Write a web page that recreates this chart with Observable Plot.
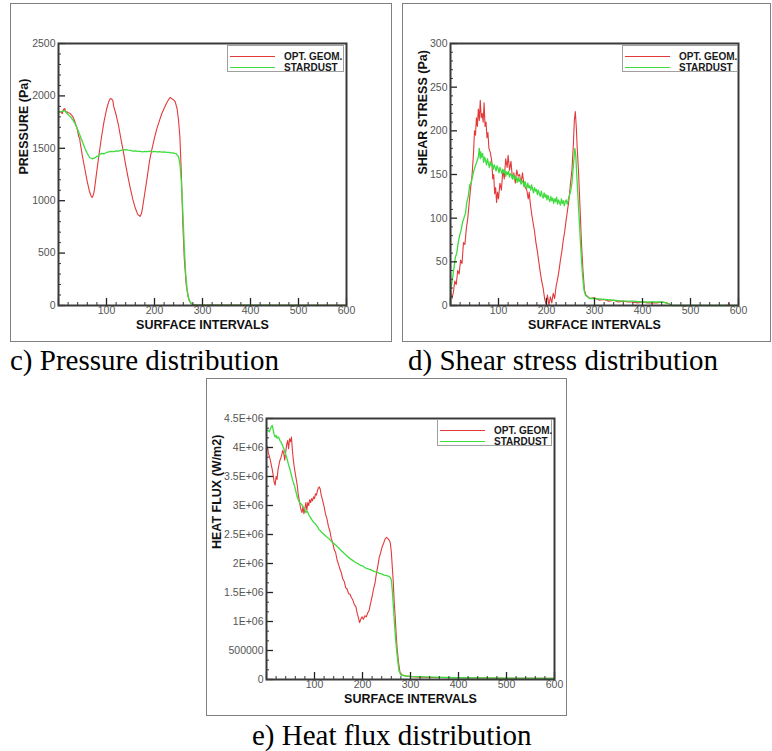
<!DOCTYPE html>
<html><head><meta charset="utf-8">
<script src="https://cdn.jsdelivr.net/npm/d3@7"></script>
<script src="https://cdn.jsdelivr.net/npm/@observablehq/plot@0.6"></script>
<style>
body{margin:0;background:#fff;width:772px;height:751px;position:relative;overflow:hidden;font-family:"Liberation Sans",Arial,sans-serif}
.box{position:absolute;border:1px solid #808080;box-sizing:border-box}
.cap{position:absolute;font-family:"Liberation Serif","Times New Roman",serif;font-size:29px;line-height:29px;color:#000;white-space:nowrap}
.leg{position:absolute;border:1px solid #a0a0a0;background:#fff;box-sizing:border-box;font:bold 10px "Liberation Sans",Arial,sans-serif;color:#1a1a1a}
.leg .ln{position:absolute;left:2px;width:45px;height:0;border-top:1px solid}
.leg .tx{position:absolute;left:56px;line-height:11px;white-space:nowrap}
svg.p{position:absolute}
</style></head><body>
<script>
// ---------- categories / labels ----------
const seriesNames = ["OPT. GEOM.", "STARDUST"];
const xTitle = "SURFACE INTERVALS";
const yTitles = ["PRESSURE (Pa)", "SHEAR STRESS (Pa)", "HEAT FLUX (W/m2)"];
const captions = ["c) Pressure distribution", "d) Shear stress distribution", "e) Heat flux distribution"];
const xMajor = [0, 100, 200, 300, 400, 500, 600];
const xLabels = [100, 200, 300, 400, 500, 600];
const xMinor = [20,40,60,80,120,140,160,180,220,240,260,280,320,340,360,380,420,440,460,480,520,540,560,580];
const pressTicks = [0, 500, 1000, 1500, 2000, 2500];
const pressMinor = [100,200,300,400,600,700,800,900,1100,1200,1300,1400,1600,1700,1800,1900,2100,2200,2300,2400];
const shearTicks = [0, 50, 100, 150, 200, 250, 300];
const shearMinor = [10,20,30,40,60,70,80,90,110,120,130,140,160,170,180,190,210,220,230,240,260,270,280,290];
const heatTicks = [0, 500000, 1000000, 1500000, 2000000, 2500000, 3000000, 3500000, 4000000, 4500000];
const heatTickLabels = ["0", "500000", "1E+06", "1.5E+06", "2E+06", "2.5E+06", "3E+06", "3.5E+06", "4E+06", "4.5E+06"];
const heatMinor = [166667,333333,666667,833333,1166667,1333333,1666667,1833333,2166667,2333333,2666667,2833333,3166667,3333333,3666667,3833333,4166667,4333333];

// ---------- series values [surface interval, value] ----------
const pressureOpt = [[0,1840],[3,1852],[5,1846],[8,1832],[10,1868],[13,1880],[15,1852],[18,1846],[20,1840],[23,1836],[25,1830],[28,1812],[30,1800],[33,1768],[35,1740],[38,1700],[40,1664],[42,1612],[44,1596],[45,1560],[50,1420],[55,1300],[60,1180],[65,1080],[68,1045],[70,1030],[73,1060],[75,1110],[80,1290],[85,1460],[90,1620],[95,1760],[100,1870],[105,1950],[108,1975],[110,1970],[113,1960],[115,1900],[120,1820],[125,1720],[130,1590],[135,1470],[140,1340],[145,1220],[150,1110],[155,1010],[160,930],[165,870],[170,850],[173,880],[175,930],[180,1080],[185,1230],[190,1390],[195,1500],[200,1600],[205,1690],[210,1760],[215,1830],[220,1880],[225,1930],[230,1970],[233,1985],[236,1972],[240,1962],[243,1945],[247,1880],[250,1770],[253,1600],[256,1250],[259,780],[262,450],[266,200],[270,80],[275,25],[280,8],[290,5],[300,4],[400,3],[500,2],[600,2]];
const pressureStar = [[0,1840],[5,1850],[10,1855],[13,1862],[15,1845],[20,1822],[25,1800],[30,1770],[35,1730],[40,1680],[45,1620],[50,1560],[55,1500],[60,1450],[65,1412],[70,1400],[75,1406],[80,1425],[83,1418],[85,1440],[90,1452],[95,1448],[100,1460],[105,1466],[110,1470],[115,1468],[120,1476],[125,1472],[130,1480],[135,1484],[140,1487],[145,1482],[150,1480],[155,1474],[160,1476],[165,1470],[170,1471],[175,1466],[180,1470],[185,1468],[190,1472],[195,1466],[200,1470],[205,1465],[210,1468],[215,1463],[220,1466],[225,1461],[230,1462],[235,1456],[240,1455],[245,1448],[250,1420],[253,1350],[256,1180],[259,900],[262,560],[265,300],[268,150],[272,50],[278,12],[285,5],[300,4],[400,3],[600,2]];
const shearOpt = [[0,18],[3,8],[6,15],[9,28],[12,24],[15,40],[18,36],[21,52],[24,48],[27,72],[30,70],[33,88],[36,100],[39,118],[42,135],[45,150],[48,175],[50,200],[52,195],[54,215],[56,205],[58,225],[60,212],[62,235],[64,215],[66,220],[68,210],[70,232],[72,205],[74,210],[76,192],[78,198],[80,180],[83,175],[86,165],[88,145],[90,150],[92,128],[94,135],[96,118],[98,130],[100,122],[103,140],[106,132],[109,155],[112,145],[115,168],[118,158],[120,172],[123,155],[126,165],[129,145],[132,152],[135,140],[138,155],[141,148],[144,150],[147,140],[150,152],[153,138],[156,135],[159,132],[162,122],[164,130],[166,118],[169,105],[172,95],[175,85],[178,72],[181,62],[184,50],[187,38],[190,28],[193,20],[196,8],[199,2],[202,12],[205,0],[208,10],[211,3],[214,14],[217,8],[220,22],[223,30],[226,40],[229,52],[232,62],[235,75],[238,85],[241,98],[244,110],[247,122],[250,140],[253,155],[256,185],[258,212],[260,222],[262,205],[264,180],[267,150],[270,110],[273,70],[276,40],[279,18],[282,12],[286,10],[290,8],[300,9],[310,6],[320,7],[330,5],[340,6],[350,4],[360,5],[370,4],[380,4],[390,3],[400,4],[410,3],[420,3],[430,3],[440,4],[450,3],[455,2],[460,0],[578,0],[580,3],[582,0],[600,0]];
const shearStar = [[0,2],[1,20],[4,30],[7,42],[10,55],[13,60],[16,72],[19,80],[22,86],[25,95],[28,100],[31,105],[34,118],[37,125],[40,138],[43,140],[46,148],[49,155],[52,160],[55,165],[58,170],[60,180],[62,168],[63,176],[65,170],[67,174],[69,164],[71,170],[73,166],[75,161],[77,168],[79,163],[81,158],[83,165],[85,160],[87,162],[89,156],[91,161],[93,158],[95,154],[97,160],[99,157],[101,152],[103,158],[105,155],[107,151],[109,156],[111,152],[113,155],[115,148],[117,153],[119,150],[121,154],[123,147],[125,151],[127,149],[129,145],[131,150],[133,144],[135,148],[137,146],[139,141],[141,147],[143,142],[145,145],[147,139],[149,143],[151,141],[153,136],[155,142],[157,138],[159,134],[161,140],[163,135],[165,137],[167,132],[169,138],[171,133],[173,129],[175,135],[177,131],[179,133],[181,127],[183,132],[185,128],[187,125],[189,131],[191,126],[193,123],[195,129],[197,124],[199,127],[201,121],[203,126],[205,122],[207,119],[209,125],[211,120],[213,123],[215,117],[217,122],[219,119],[221,124],[223,116],[225,121],[227,118],[229,115],[231,122],[233,117],[235,120],[237,114],[239,119],[241,121],[243,116],[245,120],[247,125],[250,130],[253,140],[256,160],[259,180],[261,172],[263,150],[266,120],[269,90],[272,60],[275,35],[278,18],[281,12],[285,10],[290,8],[300,8],[320,7],[340,6],[360,5],[380,5],[400,4],[420,4],[440,4],[450,3],[455,2],[460,0],[600,0]];
const heatOpt = [[0,3.95e6],[2,4.02e6],[4,3.90e6],[6,3.85e6],[8,3.78e6],[10,3.70e6],[12,3.62e6],[14,3.52e6],[16,3.40e6],[18,3.35e6],[20,3.50e6],[22,3.45e6],[24,3.62e6],[26,3.70e6],[28,3.78e6],[30,3.82e6],[32,3.88e6],[34,3.95e6],[36,3.90e6],[38,3.78e6],[40,3.92e6],[42,4.05e6],[44,4.12e6],[46,3.98e6],[48,4.15e6],[50,4.10e6],[52,4.18e6],[54,3.95e6],[56,3.78e6],[58,3.65e6],[60,3.55e6],[62,3.45e6],[64,3.35e6],[66,3.20e6],[68,3.10e6],[70,3.00e6],[72,2.92e6],[74,2.88e6],[76,2.98e6],[78,2.86e6],[80,2.95e6],[82,3.05e6],[84,2.92e6],[86,3.05e6],[88,3.00e6],[90,3.10e6],[92,3.05e6],[94,3.12e6],[96,3.08e6],[98,3.15e6],[100,3.12e6],[102,3.20e6],[104,3.18e6],[106,3.25e6],[108,3.30e6],[110,3.32e6],[112,3.28e6],[114,3.18e6],[116,3.12e6],[118,3.05e6],[120,2.98e6],[123,2.85e6],[126,2.77e6],[129,2.64e6],[132,2.56e6],[135,2.43e6],[138,2.36e6],[141,2.24e6],[144,2.19e6],[147,2.06e6],[150,1.99e6],[153,1.90e6],[156,1.84e6],[159,1.73e6],[162,1.69e6],[165,1.58e6],[168,1.56e6],[171,1.48e6],[174,1.47e6],[177,1.41e6],[180,1.37e6],[183,1.29e6],[186,1.26e6],[189,1.14e6],[192,1.05e6],[194,0.98e6],[196,1.03e6],[199,1.08e6],[202,1.04e6],[205,1.10e6],[208,1.08e6],[211,1.15e6],[214,1.20e6],[217,1.32e6],[220,1.43e6],[223,1.56e6],[226,1.66e6],[229,1.83e6],[232,1.96e6],[235,2.11e6],[238,2.19e6],[241,2.29e6],[244,2.35e6],[247,2.42e6],[250,2.45e6],[253,2.43e6],[256,2.40e6],[258,2.35e6],[260,2.20e6],[262,1.95e6],[264,1.70e6],[266,1.35e6],[268,1.10e6],[270,0.80e6],[272,0.55e6],[275,0.30e6],[278,0.13e6],[282,0.08e6],[290,0.06e6],[300,0.05e6],[320,0.04e6],[350,0.035e6],[400,0.03e6],[450,0.025e6],[500,0.02e6],[600,0.02e6]];
const heatStar = [[0,4.28e6],[3,4.30e6],[6,4.27e6],[8,4.32e6],[10,4.36e6],[12,4.38e6],[14,4.30e6],[16,4.22e6],[18,4.18e6],[20,4.21e6],[22,4.16e6],[25,4.18e6],[28,4.12e6],[31,4.08e6],[34,4.02e6],[37,3.96e6],[40,3.88e6],[43,3.80e6],[46,3.70e6],[49,3.62e6],[52,3.52e6],[55,3.42e6],[58,3.35e6],[61,3.25e6],[64,3.15e6],[67,3.08e6],[70,3.04e6],[73,3.02e6],[76,2.98e6],[79,2.95e6],[82,2.88e6],[85,2.90e6],[88,2.84e6],[91,2.80e6],[94,2.76e6],[97,2.72e6],[100,2.70e6],[105,2.65e6],[110,2.58e6],[115,2.54e6],[120,2.50e6],[125,2.46e6],[130,2.43e6],[135,2.38e6],[140,2.35e6],[145,2.31e6],[150,2.27e6],[155,2.23e6],[160,2.19e6],[165,2.15e6],[170,2.11e6],[175,2.08e6],[180,2.05e6],[185,2.02e6],[190,2.00e6],[195,1.97e6],[200,1.96e6],[205,1.93e6],[210,1.91e6],[215,1.90e6],[220,1.88e6],[225,1.86e6],[230,1.85e6],[235,1.83e6],[240,1.82e6],[245,1.80e6],[250,1.79e6],[255,1.78e6],[258,1.76e6],[260,1.72e6],[262,1.55e6],[264,1.30e6],[266,1.05e6],[268,0.80e6],[270,0.60e6],[273,0.35e6],[276,0.15e6],[280,0.08e6],[290,0.06e6],[300,0.055e6],[350,0.04e6],[400,0.03e6],[500,0.025e6],[600,0.02e6]];

const RED = "#e23a3a", GREEN = "#3fdc3f";

function addDiv(cls, css, html) {
  const d = document.createElement("div");
  d.className = cls; Object.assign(d.style, css); if (html != null) d.textContent = html;
  document.body.appendChild(d); return d;
}

function panel(cfg) {
  const {box, m, yDomain, yTicks, yMinor, yFormat, yTitle, opt, star, titleDx, legend} = cfg;
  addDiv("box", {left: box[0] + "px", top: box[1] + "px", width: box[2] + "px", height: box[3] + "px"});
  const fw = box[2] - m[0] - m[1], fh = box[3] - m[2] - m[3];
  const svg = Plot.plot({
    width: box[2], height: box[3],
    marginLeft: m[0], marginRight: m[1], marginTop: m[2], marginBottom: m[3],
    style: {fontFamily: "'Liberation Sans', Arial, sans-serif", background: "transparent", overflow: "visible"},
    x: {domain: [0, 600]},
    y: {domain: yDomain},
    marks: [
      Plot.line(opt, {x: d => d[0], y: d => d[1], stroke: RED, strokeWidth: 1.1}),
      Plot.line(star, {x: d => d[0], y: d => d[1], stroke: GREEN, strokeWidth: 1.3}),
      Plot.tickX(xMinor, {x: d => d, insetTop: fh - 3, stroke: "#333"}),
      Plot.tickX(xMajor, {x: d => d, insetTop: fh - 7, stroke: "#222", strokeWidth: 1.3}),
      Plot.tickY(yMinor, {y: d => d, insetRight: fw - 3, stroke: "#333"}),
      Plot.tickY(yTicks, {y: d => d, insetRight: fw - 7, stroke: "#222", strokeWidth: 1.3}),
      Plot.frame({stroke: "#3a3a3a", strokeWidth: 2}),
      Plot.axisX(xLabels, {tickSize: 0, tickPadding: 1, fontSize: 10.5, fill: "#555", label: null}),
      Plot.axisY(yTicks, {tickSize: 0, tickPadding: 3, fontSize: 10.5, fill: "#555", label: null, tickFormat: yFormat}),
      Plot.text([xTitle], {frameAnchor: "bottom", dy: 23, text: d => d, fontSize: 12.5, fontWeight: "bold", fill: "#111"}),
      Plot.text([yTitle], {frameAnchor: "left", dx: titleDx, rotate: -90, text: d => d, fontSize: 12.5, fontWeight: "bold", fill: "#111"})
    ]
  });
  svg.classList.add("p");
  svg.style.left = box[0] + "px"; svg.style.top = box[1] + "px";
  document.body.appendChild(svg);
  const lg = addDiv("leg", {left: legend[0] + "px", top: legend[1] + "px", width: legend[2] + "px", height: "27px"});
  [[RED, 10, seriesNames[0]], [GREEN, 21, seriesNames[1]]].forEach(([c, y, t]) => {
    const l = document.createElement("div"); l.className = "ln"; l.style.top = y + "px"; l.style.borderTopColor = c;
    if (c === GREEN) l.style.borderTopWidth = "1.5px";
    lg.appendChild(l);
    const s = document.createElement("div"); s.className = "tx"; s.style.top = (y - 5) + "px"; s.textContent = t;
    lg.appendChild(s);
  });
}

panel({box: [10, 3, 382, 339], m: [48, 46, 40, 37], yDomain: [0, 2500], yTicks: pressTicks, yMinor: pressMinor,
  yFormat: d => String(d), yTitle: yTitles[0], opt: pressureOpt, star: pressureStar, titleDx: -35, legend: [227, 45, 117]});
panel({box: [402, 3, 369, 339], m: [48, 33, 40, 37], yDomain: [0, 300], yTicks: shearTicks, yMinor: shearMinor,
  yFormat: d => String(d), yTitle: yTitles[1], opt: shearOpt, star: shearStar, titleDx: -28, legend: [622, 45, 116]});
panel({box: [206, 378, 361, 338], m: [60, 13, 40, 37], yDomain: [0, 4500000], yTicks: heatTicks, yMinor: heatMinor,
  yFormat: (d, i) => heatTickLabels[i], yTitle: yTitles[2], opt: heatOpt, star: heatStar, titleDx: -50, legend: [437, 419, 115]});

addDiv("cap", {left: "10px", top: "346px"}, captions[0]);
addDiv("cap", {left: "408px", top: "346px"}, captions[1]);
addDiv("cap", {left: "252px", top: "721px"}, captions[2]);
</script>
</body></html>
